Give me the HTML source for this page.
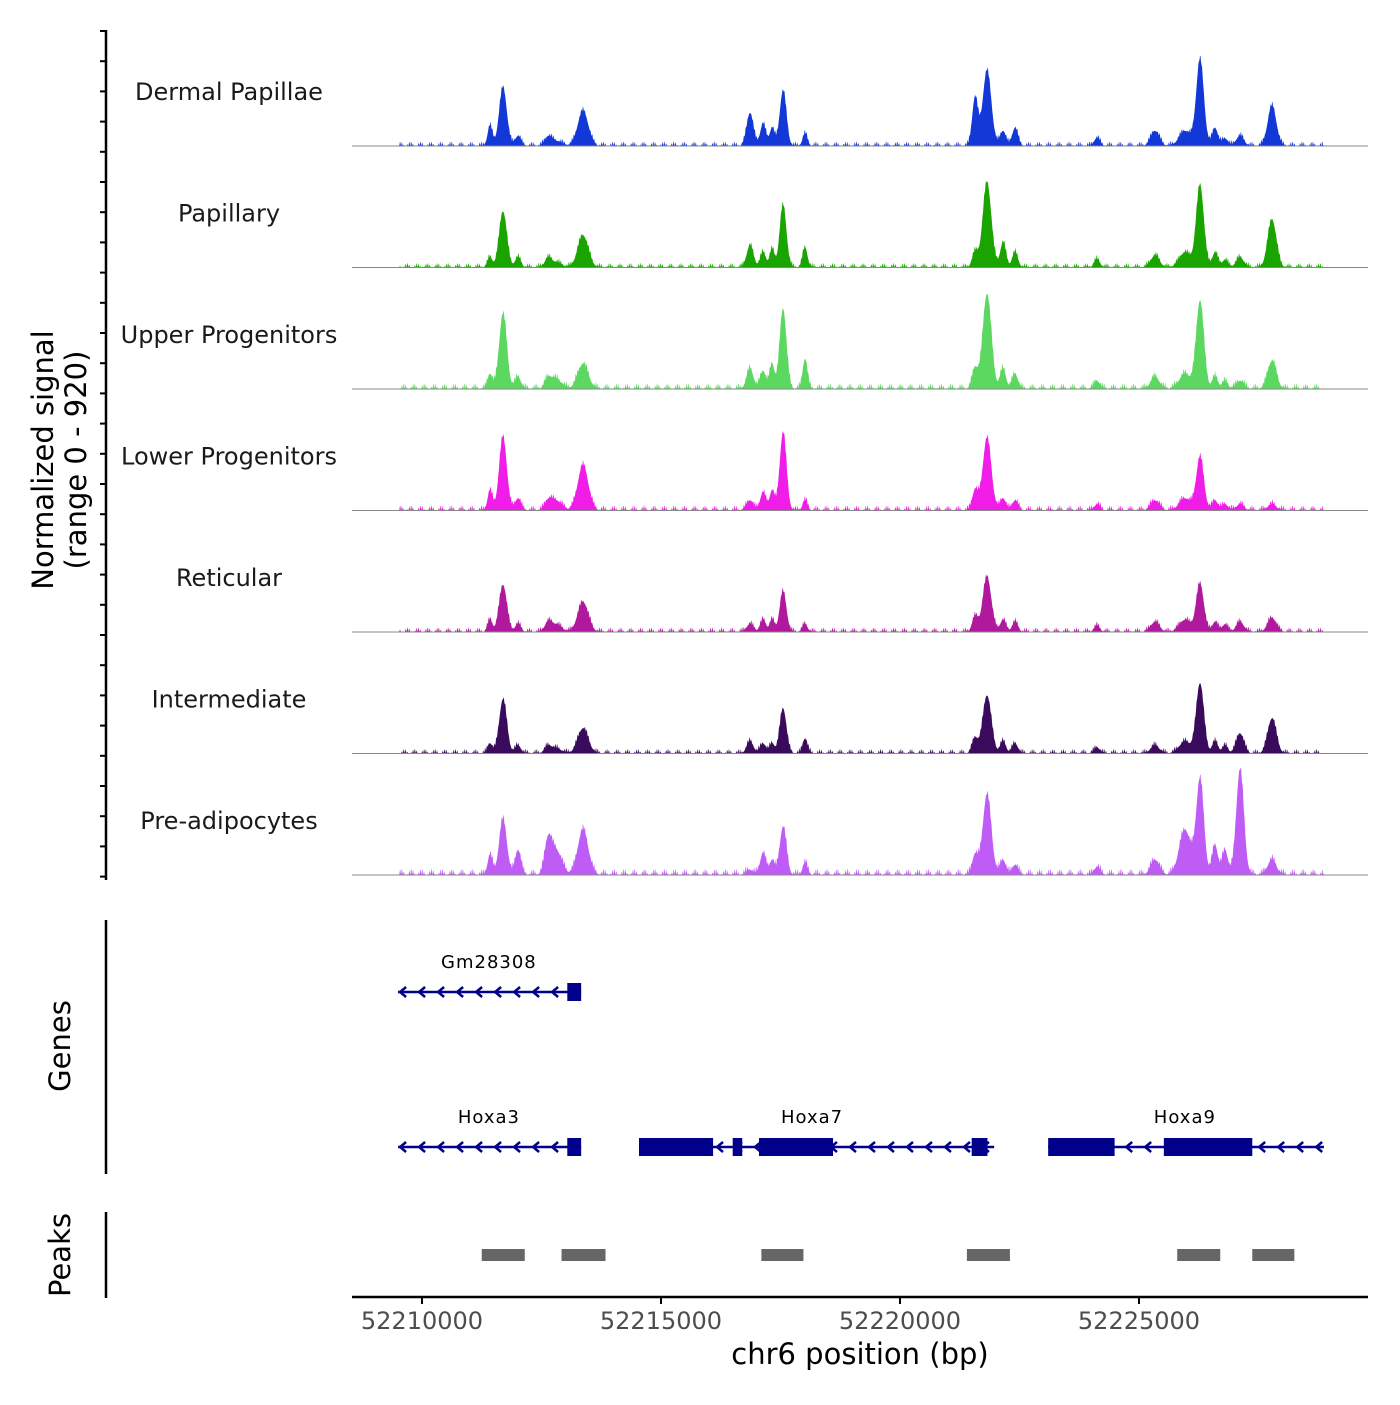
<!DOCTYPE html>
<html><head><meta charset="utf-8">
<style>
html,body{margin:0;padding:0;background:#fff;}
svg text{font-family:"DejaVu Sans","Liberation Sans",sans-serif;}
</style></head>
<body>
<svg id="chart" width="1400" height="1400" viewBox="0 0 1400 1400" xmlns="http://www.w3.org/2000/svg">
<g id="tracks"></g>
<g id="leftaxis"></g>
<text transform="translate(53,460) rotate(-90)" text-anchor="middle" font-size="29" fill="#000">Normalized signal</text>
<text transform="translate(86,460) rotate(-90)" text-anchor="middle" font-size="29" fill="#000">(range 0 - 920)</text>
<g id="genes"></g>
<line x1="106" y1="920" x2="106" y2="1174" stroke="#000" stroke-width="2.5"/>
<text transform="translate(70,1046) rotate(-90)" text-anchor="middle" font-size="29">Genes</text>
<g id="peaks"></g>
<line x1="106" y1="1212" x2="106" y2="1298" stroke="#000" stroke-width="2.5"/>
<text transform="translate(70,1255) rotate(-90)" text-anchor="middle" font-size="29">Peaks</text>
<g id="xaxis"></g>
<text x="860" y="1364" text-anchor="middle" font-size="29">chr6 position (bp)</text>
</svg>
<script>
const trackNames=["Dermal Papillae","Papillary","Upper Progenitors","Lower Progenitors","Reticular","Intermediate","Pre-adipocytes"];
const trackColors=["#1238d8","#1aa400","#5cd860","#f01ce8","#b0189e","#3a0b5c","#c05cf6"];
const peakPos=[52211423,52211695,52212009,52212636,52212800,52213369,52216863,52217135,52217324,52217554,52218014,52221570,52221821,52222156,52222407,52224122,52225336,52225963,52226277,52226591,52226800,52227114,52227783];
const peakWidth=[50,80,60,70,120,110,70,60,50,70,50,60,90,60,60,60,90,120,80,60,60,80,90];
const sigDermal=[160,464,80,64,40,280,264,176,144,440,96,384,600,120,144,64,120,120,688,144,60,80,320];
const sigPapillary=[80,448,80,64,40,256,176,120,144,496,160,120,680,200,120,64,96,120,656,120,60,80,384];
const sigUpper=[120,600,96,64,80,200,160,144,200,640,240,160,760,160,120,64,96,120,704,96,60,64,224];
const sigLower=[160,584,96,64,80,360,80,144,160,624,80,160,576,96,80,48,80,96,424,80,50,48,48];
const sigReticular=[96,376,64,64,60,240,64,96,96,320,64,120,440,96,80,48,80,96,384,80,60,80,112];
const sigIntermediate=[80,432,64,48,40,200,96,80,80,360,120,120,464,96,80,48,64,96,560,96,60,160,280];
const sigPreadip=[160,440,200,240,200,360,40,176,120,384,96,160,640,120,80,64,120,360,760,240,200,840,120];
const signals=[sigDermal,sigPapillary,sigUpper,sigLower,sigReticular,sigIntermediate,sigPreadip];
const floorLevel=[40,40,50,45,40,40,55];
const ticks=[52210000,52215000,52220000,52225000];
const genes=[
 {name:"Gm28308",start:52209500,end:52213330,row:0,exons:[[52213040,52213330]]},
 {name:"Hoxa3",start:52209500,end:52213330,row:1,exons:[[52213040,52213330]]},
 {name:"Hoxa7",start:52214540,end:52221970,row:1,exons:[[52214540,52216090],[52216500,52216700],[52217050,52218600],[52221500,52221830]]},
 {name:"Hoxa9",start:52223100,end:52228870,row:1,exons:[[52223100,52224490],[52225520,52227370]]}
];
const geneLabelPos=[52211400,52211400,52218160,52225960];
const peakStarts=[52211250,52212920,52217100,52221400,52225800,52227370];
const peakEnds=[52212150,52213840,52217980,52222300,52226700,52228250];

const X0=352,X1=1368,D0=52208536,D1=52229791;
const xs=bp=>X0+(bp-D0)/(D1-D0)*(X1-X0);
const NS="http://www.w3.org/2000/svg";
function mk(tag,attrs,parent){const e=document.createElementNS(NS,tag);for(const k in attrs)e.setAttribute(k,attrs[k]);parent.appendChild(e);return e;}
const trackTop=25.5,trackH=121.5,pxPerUnit=115/920;
const tg=document.getElementById('tracks');
const sStart=52209500,sEnd=52228870;
trackNames.forEach((nm,i)=>{
  const base=trackTop+(i+1)*trackH-1;
  const g=mk('g',{},tg);
  
  
  const t=mk('text',{x:229,y:base-46,'text-anchor':'middle','font-size':24,fill:'#1a1a1a'},g);
  t.textContent=nm;
  
  
  let d=`M${xs(sStart)},${base}`;
  for(let px=Math.ceil(xs(sStart));px<=xs(sEnd);px+=0.5){
    const bp=D0+(px-X0)/(X1-X0)*(D1-D0);
    const n=Math.abs(Math.sin(px*1.7)*Math.sin(px*0.31+i));
    let v=floorLevel[i]*n*n;
    peakPos.forEach((p,j)=>{const w=peakWidth[j];const z=(bp-p)/w;v+=signals[i][j]*Math.exp(-0.5*z*z);});
    v=Math.min(v,920);
    d+=`L${px},${(base-v*pxPerUnit).toFixed(1)}`;
  }
  d+=`L${xs(sEnd)},${base}Z`;
  const a=mk('path',{d:d,fill:trackColors[i]},g);
  
  
  const l=mk('line',{x1:X0,x2:X1,y1:base,y2:base,stroke:'#888','stroke-width':1},g);
  
  
});
const la=document.getElementById('leftaxis');
mk('line',{x1:106,y1:30,x2:106,y2:880,stroke:'#000','stroke-width':2.5},la);
for(let k=0;k<=28;k++){const y=31+k*30.2;mk('line',{x1:100,x2:106,y1:y,y2:y,stroke:'#000','stroke-width':2},la);}
const gg=document.getElementById('genes');
genes.forEach((gn,i)=>{
  const y=gn.row===0?992:1147;
  const g=mk('g',{},gg);
  
  
  const x1=xs(gn.start),x2=xs(gn.end);
  mk('line',{x1:x1,x2:x2,y1:y,y2:y,stroke:'#00008b','stroke-width':2.5},g);
  for(let x=x1+2;x<x2-6;x+=19){mk('path',{d:`M${x+6},${y-5}L${x},${y}L${x+6},${y+5}`,fill:'none',stroke:'#00008b','stroke-width':2.5},g);}
  gn.exons.forEach(e=>{mk('rect',{x:xs(e[0]),y:y-9,width:xs(e[1])-xs(e[0]),height:18,fill:'#00008b'},g);});
  const t=mk('text',{x:xs(geneLabelPos[i]),y:y-24,'text-anchor':'middle','font-size':18,'letter-spacing':1},g);
  t.textContent=gn.name;
  
  
});
const pg=document.getElementById('peaks');
peakStarts.forEach((s,i)=>{
  const r=mk('rect',{x:xs(s),y:1249,width:xs(peakEnds[i])-xs(s),height:12,fill:'#666'},pg);
  
  
});
const xa=document.getElementById('xaxis');
mk('line',{x1:X0,x2:X1,y1:1297,y2:1297,stroke:'#000','stroke-width':2.5},xa);
ticks.forEach(t=>{
  const x=xs(t);
  mk('line',{x1:x,x2:x,y1:1297,y2:1304,stroke:'#000','stroke-width':2},xa);
  const tx=mk('text',{x:x,y:1329,'text-anchor':'middle','font-size':24,fill:'#4d4d4d'},xa);
  tx.textContent=String(t);
  
  
});
</script>
</body></html>
